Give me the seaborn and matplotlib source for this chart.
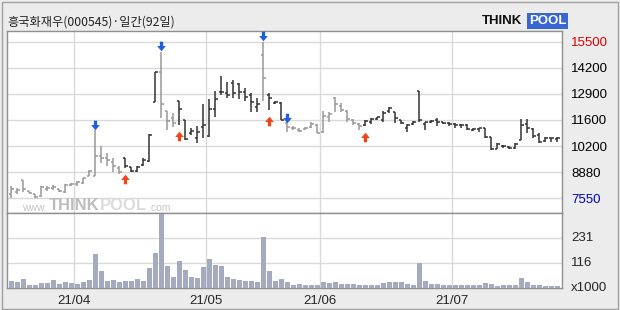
import numpy as np
import pandas as pd
import matplotlib
matplotlib.use("Agg")
import matplotlib.pyplot as plt
import matplotlib.transforms as mtransforms
from matplotlib.path import Path
from matplotlib.patches import Rectangle
import seaborn as sns

# ---------------- data ----------------
opens = [7770, 7870, 8480, 7920, 7770, 7670, 8020, 8070, 8020, 7870,
         8230, 8280, 8330, 8680, 8680, 9700, 9600, 9390, 9090, 9600,
         9140, 8930, 9240, 9440, 12450, 13950, 11980, 11630, 12490, 11525,
         10860, 10610, 11170, 10710, 12080, 12950, 12900, 13400, 13350, 12950,
         12790, 12180, 14820, 12800, 12390, 12390, 11370, 11120, 11020, 11070,
         11170, 11270, 10920, 11680, 12640, 12230, 11980, 11525, 11320, 11270,
         11420, 11580, 11525, 11980, 11930, 11525, 11120, 11320, 13000, 11320,
         11420, 11525, 11420, 11370, 11320, 11270, 11270, 11020, 11070, 11120,
         10660, 10050, 10200, 10150, 10100, 10530, 11320, 11070, 10760, 10460,
         10610, 10560]
highs = [8170, 8070, 8480, 7940, 7770, 8170, 8170, 8230, 8040, 8280,
         8310, 8440, 8600, 8990, 11000, 10200, 9850, 9600, 9190, 9600,
         9140, 9190, 9600, 10810, 13960, 14990, 11980, 11880, 12490, 11525,
         11120, 11220, 12340, 12590, 13000, 13760, 13460, 13560, 13400, 13150,
         12900, 12640, 15500, 12900, 12490, 12440, 11370, 11240, 11130, 11180,
         11420, 11320, 11980, 11930, 12690, 12390, 12030, 11580, 11370, 11525,
         11630, 11690, 11980, 12200, 11930, 11525, 11310, 11470, 13000, 11440,
         11525, 11630, 11440, 11410, 11360, 11310, 11310, 11120, 11130, 11130,
         10680, 10340, 10250, 10200, 10340, 11575, 11580, 11100, 10850, 10680,
         10630, 10680]
lows = [7550, 7770, 7890, 7810, 7570, 7620, 7930, 7970, 7870, 7830,
        8170, 8170, 8280, 8680, 8680, 9340, 9190, 8890, 8780, 9090,
        8890, 8890, 9190, 9390, 12450, 11610, 11020, 11170, 11270, 10510,
        10760, 10360, 10610, 10660, 11680, 12800, 12640, 12640, 12590, 12490,
        11930, 11930, 12490, 12030, 12340, 11525, 10930, 11020, 10900, 11020,
        11120, 10860, 10860, 11440, 11930, 11930, 11440, 11270, 11020, 11240,
        11320, 11525, 11440, 11870, 11370, 11310, 10930, 11270, 11420, 11020,
        11370, 11240, 11310, 11240, 11100, 11130, 11020, 10970, 10930, 10620,
        10000, 10040, 10120, 10050, 10050, 10510, 10850, 10620, 10340, 10430,
        10430, 10430]
closes = [8020, 7970, 8020, 7830, 7620, 8120, 8070, 8120, 7920, 8230,
          8280, 8380, 8580, 8930, 9700, 9600, 9490, 9190, 8890, 9190,
          8930, 9140, 9490, 10760, 13960, 12340, 11470, 11370, 12080, 10560,
          10970, 10920, 11270, 12080, 12590, 12950, 12800, 12900, 12950, 12690,
          12440, 12340, 13660, 12640, 12440, 11525, 11170, 11120, 10970, 11120,
          11320, 10890, 11730, 11830, 12340, 12030, 11580, 11370, 11220, 11470,
          11580, 11680, 11880, 12130, 11630, 11370, 11270, 11420, 11525, 11420,
          11470, 11420, 11370, 11320, 11270, 11270, 11070, 11070, 11120, 10660,
          10050, 10310, 10200, 10100, 10310, 11270, 11120, 10710, 10410, 10610,
          10610, 10610]
volumes = [33, 29, 43, 15, 15, 24, 24, 38, 20, 29,
           24, 21, 29, 38, 157, 79, 35, 38, 30, 33,
           32, 43, 35, 93, 161, 339, 102, 52, 125, 84,
           52, 47, 97, 134, 106, 102, 52, 43, 38, 35,
           33, 30, 234, 79, 33, 43, 29, 17, 20, 13,
           15, 15, 30, 26, 30, 20, 21, 21, 17, 17,
           17, 17, 24, 27, 30, 27, 21, 17, 117, 35,
           20, 20, 17, 17, 15, 15, 15, 15, 15, 26,
           21, 11, 15, 15, 15, 49, 30, 15, 15, 11,
           11, 11]
sell_signals = [14, 25, 42, 46]
buy_signals = [19, 28, 43, 59]
month_labels = ["21/04", "21/05", "21/06", "21/07"]
month_starts = [11, 33, 52, 74]
price_ticks = ["7550", "8880", "10200", "11600", "12900", "14200", "15500"]
vol_ticks = ["x1000", "116", "231"]
title = "흥국화재우(000545)·일간(92일)"

n = len(opens)
idx = np.arange(n)
df = pd.DataFrame({"i": idx, "open": opens, "high": highs, "low": lows,
                   "close": closes, "volume": volumes})

# trend state: gray after sell signal, dark after buy signal
state = np.zeros(n, dtype=int)
cur = 0
for i in range(n):
    if i in buy_signals:
        cur = 1
    if i in sell_signals:
        cur = 0
    state[i] = cur
df["state"] = state

# ---------------- style ----------------
sns.set_style("white")
plt.rcParams["font.family"] = ["DejaVu Sans"]
NARROW = ["Liberation Sans Narrow", "Liberation Sans", "DejaVu Sans"]

W, H = 620, 310
fig = plt.figure(figsize=(W / 100, H / 100), dpi=100, facecolor="#ececec")

x_left, x_right = 7.3, 562.3
y_top, y_mid, y_bot = 31.0, 212.7, 288.3
axp = fig.add_axes([x_left / W, 1 - y_mid / H, (x_right - x_left) / W, (y_mid - y_top) / H])
axv = fig.add_axes([x_left / W, 1 - y_bot / H, (x_right - x_left) / W, (y_bot - y_mid) / H])

xlim = (-0.67, 91.83)
grid_c = "#d9d9d9"
frame_c = "#8f8f8f"

# ---------- price panel ----------
tick_vals = np.linspace(7550, 15500, 7)
p_per_px = (15500 - 7550) / (198.3 - 41.7)
ylo = 7550 - (y_mid - 198.3) * p_per_px
yhi = 15500 + (41.7 - y_top) * p_per_px
axp.set_xlim(*xlim)
axp.set_ylim(ylo, yhi)
for v in tick_vals:
    axp.axhline(v, color=grid_c, lw=1.0, zorder=0)
for m in month_starts:
    axp.axvline(m - 0.5, color=grid_c, lw=1.0, zorder=0)
    axv.axvline(m - 0.5, color=grid_c, lw=1.0, zorder=0)

colors = np.where(df["state"] == 1, "#333333", "#999999")
tk = 0.38
axp.vlines(df["i"], df["low"], df["high"], colors=colors, lw=1.1, zorder=3)
axp.hlines(df["open"], df["i"] - tk, df["i"], colors=colors, lw=1.1, zorder=3)
axp.hlines(df["close"], df["i"], df["i"] + tk, colors=colors, lw=1.1, zorder=3)

# arrows
down_verts = [(-0.17, 0.5), (0.17, 0.5), (0.17, 0.05), (0.45, 0.05), (0.0, -0.5),
              (-0.45, 0.05), (-0.17, 0.05), (-0.17, 0.5)]
down_path = Path(down_verts, closed=True)
up_path = Path([(x, -y) for x, y in down_verts], closed=True)
off_up = mtransforms.offset_copy(axp.transData, fig=fig, x=0, y=5.5, units="dots")
off_dn = mtransforms.offset_copy(axp.transData, fig=fig, x=0, y=-11, units="dots")
sell_df = df.loc[sell_signals]
buy_df = df.loc[buy_signals]
axp.scatter(sell_df["i"], sell_df["high"], marker=down_path, s=48, color="#1d5fe0",
            linewidths=0, transform=off_up, zorder=5, clip_on=False)
axp.scatter(buy_df["i"], buy_df["low"], marker=up_path, s=48, color="#f2441a",
            linewidths=0, transform=off_dn, zorder=5, clip_on=False)

axp.yaxis.tick_right()
axp.set_yticks(tick_vals)
axp.set_yticklabels(price_ticks)
axp.tick_params(axis="y", length=0, pad=6.5, labelsize=9.5)
for lab in axp.get_yticklabels():
    lab.set_family(NARROW)
    lab.set_color("black")
axp.get_yticklabels()[-1].set_color("#e00000")
axp.get_yticklabels()[0].set_color("#0000c0")
axp.set_xticks([])
axp.set_xlabel("")
axp.set_ylabel("")

# watermark (pieces chained so they never overlap)
t1 = axp.text(0.027, 0.012, "www.", transform=axp.transAxes, fontsize=7.5, color="#c4c4c4",
              ha="left", va="baseline", family=NARROW, zorder=1, clip_on=True)
t2 = axp.annotate("THINK", xy=(1, 0), xycoords=t1, xytext=(1, 0), textcoords="offset points",
                  fontsize=12, color="#bdbdbd", ha="left", va="bottom", family=NARROW,
                  weight="bold", zorder=1, annotation_clip=False)
t3 = axp.annotate("POOL", xy=(1, 0), xycoords=t2, xytext=(0.5, 0), textcoords="offset points",
                  fontsize=12, color="#dcdcdc", ha="left", va="bottom", family=NARROW,
                  weight="bold", zorder=1, annotation_clip=False)
t4 = axp.annotate(".com", xy=(1, 0), xycoords=t3, xytext=(1, 0), textcoords="offset points",
                  fontsize=7.5, color="#c4c4c4", ha="left", va="bottom", family=NARROW,
                  zorder=1, annotation_clip=False)

# ---------- volume panel ----------
sns.barplot(data=df, x="i", y="volume", native_scale=True, color="#a4abc0",
            saturation=1, width=0.82, errorbar=None, ax=axv, zorder=3, linewidth=0)
axv.set_xlim(*xlim)
vol_top = (y_bot - y_mid) * (231 / (y_bot - 237.7))
axv.set_ylim(0, vol_top)
for v in [115.5, 231]:
    axv.axhline(v, color=grid_c, lw=1.0, zorder=0)
axv.yaxis.tick_right()
axv.set_yticks([0, 115.5, 231])
axv.set_yticklabels(vol_ticks)
axv.tick_params(axis="y", length=0, pad=6.5, labelsize=9.5)
for lab in axv.get_yticklabels():
    lab.set_family(NARROW)
    lab.set_va("center")
axv.set_xticks([m - 0.5 for m in month_starts])
axv.set_xticklabels(month_labels)
axv.tick_params(axis="x", length=0, pad=4.5, labelsize=9.5)
for lab in axv.get_xticklabels():
    lab.set_family(NARROW)
axv.set_xlabel("")
axv.set_ylabel("")

for ax in (axp, axv):
    ax.set_facecolor("white")
    for sp in ax.spines.values():
        sp.set_visible(True)
        sp.set_color(frame_c)
        sp.set_linewidth(1.0)

# ---------- title and logo ----------
fig.text(7 / W, 1 - 22.5 / H, title, fontsize=8.8, color="#222222",
         family=["Noto Sans CJK KR", "DejaVu Sans"], ha="left", va="center")
fig.text(482 / W, 1 - 21 / H, "THINK", fontsize=9.5, weight="bold", color="#111111",
         family=["Liberation Sans", "DejaVu Sans"], ha="left", va="center")
fig.text(529 / W, 1 - 21 / H, "POOL", fontsize=9.5, weight="bold", color="white",
         family=["Liberation Sans", "DejaVu Sans"], ha="left", va="center",
         bbox=dict(boxstyle="square,pad=0.12", fc="#3a66d4", ec="none"))

# outer border
fig.patches.append(Rectangle((1.5 / W, 1.5 / H), 616.5 / W, 307 / H, transform=fig.transFigure,
                             fill=False, ec="#a0a0a0", lw=1.0))

fig.savefig("out.png", dpi=100, facecolor=fig.get_facecolor())
